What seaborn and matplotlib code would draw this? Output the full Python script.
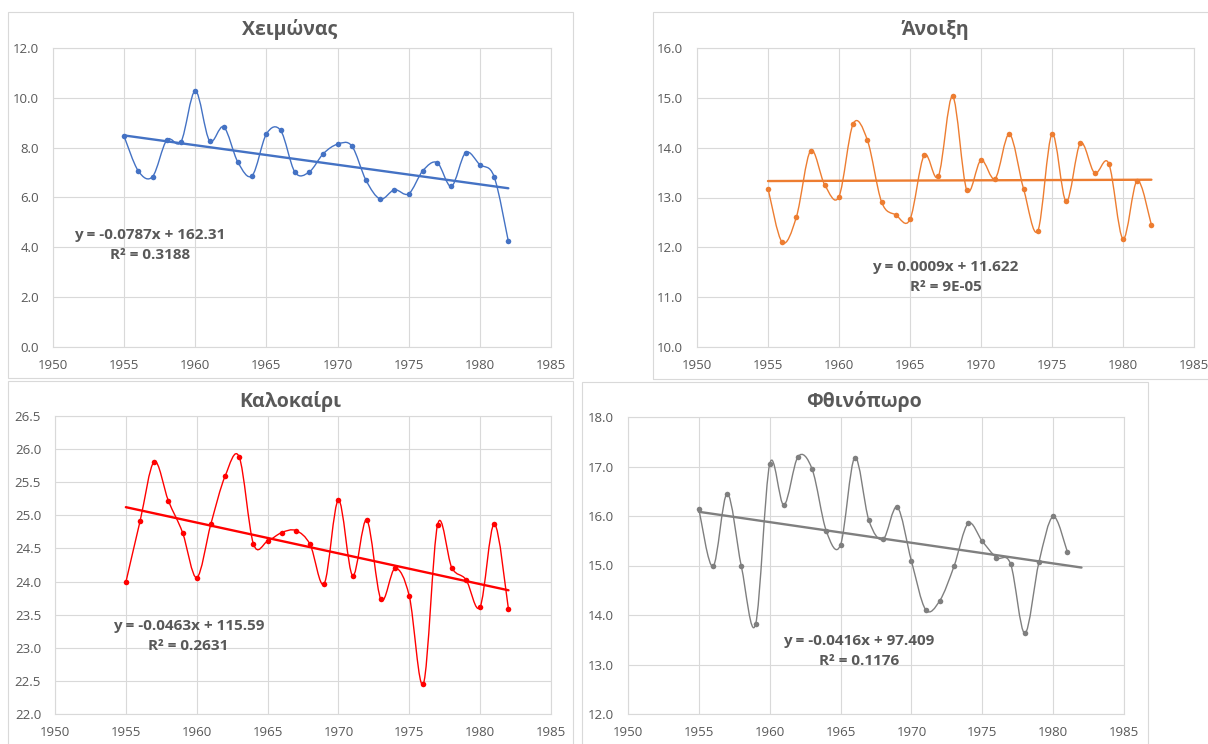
import numpy as np
import pandas as pd
import matplotlib
matplotlib.use("Agg")
import matplotlib.pyplot as plt
from matplotlib.path import Path
from matplotlib.patches import PathPatch, Rectangle
import seaborn as sns

years = list(range(1955, 1983))

winter = [8.45, 7.06, 6.84, 8.31, 8.24, 10.28, 8.28, 8.83, 7.41, 6.88,
          8.55, 8.69, 7.02, 7.02, 7.76, 8.14, 8.07, 6.69, 5.94, 6.31,
          6.15, 7.08, 7.40, 6.45, 7.80, 7.32, 6.84, 4.25]
spring = [13.18, 12.10, 12.61, 13.94, 13.25, 13.02, 14.48, 14.15, 12.91, 12.65,
          12.56, 13.85, 13.43, 15.03, 13.15, 13.75, 13.38, 14.27, 13.17, 12.33,
          14.27, 12.92, 14.09, 13.49, 13.68, 12.17, 13.34, 12.45]
summer = [23.99, 24.91, 25.81, 25.22, 24.74, 24.06, 24.87, 25.59, 25.88, 24.57,
          24.61, 24.74, 24.77, 24.56, 23.97, 25.23, 24.09, 24.93, 23.73, 24.20,
          23.78, 22.46, 24.86, 24.21, 24.03, 23.62, 24.87, 23.58]
autumn = [16.14, 14.98, 16.45, 14.98, 13.81, 17.05, 16.22, 17.20, 16.94, 15.69,
          15.42, 17.18, 15.91, 15.53, 16.18, 15.09, 14.11, 14.29, 14.98, 15.85,
          15.49, 15.16, 15.03, 13.63, 15.07, 15.99, 15.28, np.nan]

titles = ["Χειμώνας", "Άνοιξη", "Καλοκαίρι", "Φθινόπωρο"]
equations = ["y = -0.0787x + 162.31\nR² = 0.3188",
             "y = 0.0009x + 11.622\nR² = 9E-05",
             "y = -0.0463x + 115.59\nR² = 0.2631",
             "y = -0.0416x + 97.409\nR² = 0.1176"]

W, H = 1208, 744
TXT = "#595959"
GRID = "#d9d9d9"

sns.set_style("white")
plt.rcParams["font.family"] = ["Open Sans", "DejaVu Sans"]


def fx(px):
    return px / W


def fy(py):
    return 1 - py / H


def smooth_path(x, y):
    # Excel-like smoothed line: cubic Bezier segments through the points
    pts = np.column_stack([x, y])
    verts = [pts[0]]
    codes = [Path.MOVETO]
    n = len(pts)
    for i in range(n - 1):
        p0 = pts[i - 1] if i > 0 else pts[i]
        p1, p2 = pts[i], pts[i + 1]
        p3 = pts[i + 2] if i + 2 < n else pts[i + 1]
        verts += [p1 + (p2 - p0) / 6, p2 - (p3 - p1) / 6, p2]
        codes += [Path.CURVE4] * 3
    return Path(verts, codes)


fig = plt.figure(figsize=(12.08, 7.44), dpi=100)

# chart frames (px): left, top, right, bottom
frames = [(8, 12, 573, 378), (653, 12, 1230, 379),
          (8, 381, 573, 760), (582, 382, 1148, 760)]
# plot areas (px)
areas = [(53, 48, 551, 347), (697, 48, 1194, 347),
         (55, 416, 551, 714), (628, 417, 1124, 714)]
title_pos = [(290, 30), (935, 30), (290, 402), (864, 402)]
colors = ["#4472C4", "#ED7D31", "#FF0000", "#7F7F7F"]
ylims = [(0, 12, 2), (10, 16, 1), (22, 26.5, 0.5), (12, 18, 1)]
eq_pos = [(1956.8, 4.09), (1967.5, 11.40), (1959.4, 23.18), (1966.3, 13.27)]
series = [winter, spring, summer, autumn]

for k in range(4):
    l, t, r, b = frames[k]
    fig.patches.append(Rectangle((fx(l), fy(b)), fx(r - l), (b - t) / H,
                                 transform=fig.transFigure, fill=False,
                                 edgecolor=GRID, linewidth=0.8))
    fig.text(fx(title_pos[k][0]), fy(title_pos[k][1]), titles[k],
             ha="center", va="center", fontsize=14, fontweight="bold", color=TXT)

    l, t, r, b = areas[k]
    ax = fig.add_axes([fx(l), fy(b), fx(r - l), (b - t) / H])
    df = pd.DataFrame({"year": years, "value": series[k]}).dropna()
    c = colors[k]

    ax.add_patch(PathPatch(smooth_path(df["year"].values, df["value"].values),
                           facecolor="none", edgecolor=c, linewidth=1.0, zorder=3))
    sns.scatterplot(data=df, x="year", y="value", color=c, s=16,
                    linewidth=0, ax=ax, zorder=4)

    slope, icpt = np.polyfit(df["year"], df["value"], 1)
    trend_x = np.array([years[0], years[-1]])
    sns.lineplot(x=trend_x, y=slope * trend_x + icpt, color=c, linewidth=1.7,
                 ax=ax, zorder=3)

    lo, hi, step = ylims[k]
    ax.set_xlim(1950, 1985)
    ax.set_ylim(lo, hi)
    ax.set_xticks(range(1950, 1986, 5))
    ax.set_yticks(np.arange(lo, hi + step / 2, step))
    ax.set_yticklabels([f"{v:.1f}" for v in np.arange(lo, hi + step / 2, step)])
    ax.grid(True, color=GRID, linewidth=0.8)
    ax.set_axisbelow(True)
    for s in ax.spines.values():
        s.set_color(GRID)
        s.set_linewidth(0.8)
    ax.tick_params(length=0, labelsize=9.5, labelcolor=TXT)
    ax.tick_params(axis="y", pad=10)
    ax.tick_params(axis="x", pad=9)
    ax.set_xlabel("")
    ax.set_ylabel("")
    ax.text(eq_pos[k][0], eq_pos[k][1], equations[k], ha="center", va="center",
            multialignment="center", fontsize=11, fontweight="bold", color=TXT,
            linespacing=1.55, zorder=5)

fig.savefig("out.png", dpi=100)
